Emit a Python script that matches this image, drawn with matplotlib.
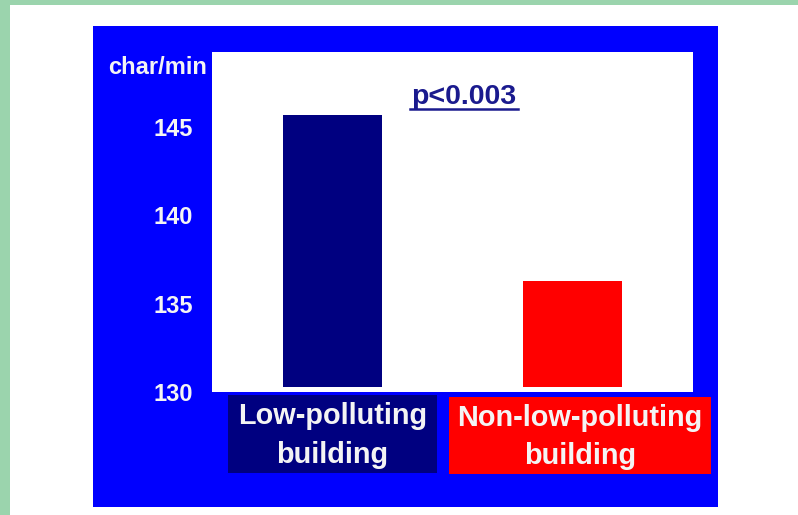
import matplotlib
matplotlib.use("Agg")
import matplotlib.pyplot as plt
from matplotlib.patches import Rectangle
from matplotlib.lines import Line2D

# Typing speed by building type
categories = ["Low-polluting\nbuilding", "Non-low-polluting\nbuilding"]
values = [145.7, 136.3]
yticks = [130, 135, 140, 145]
ylabel = "char/min"
p_text = "p<0.003"

bar_colors = ["#000080", "#ff0000"]
panel_blue = "#0000ff"
frame_green = "#9bd4ad"
tick_white = "#f4f4f4"
p_color = "#1a1a8e"

W, H = 798, 515
fig = plt.figure(figsize=(W / 100, H / 100), dpi=100)
fig.patch.set_facecolor(frame_green)


def fx(x):
    return x / W


def fy(y):
    return 1 - y / H


def frect(x0, y0, x1, y1, color, z=0):
    fig.patches.append(Rectangle((fx(x0), fy(y1)), fx(x1) - fx(x0), fy(y0) - fy(y1),
                                 transform=fig.transFigure, facecolor=color,
                                 edgecolor="none", zorder=z))


# slide background and blue panel
frect(10, 5, W, H, "white", z=-3)
frect(93, 26, 718, 507, panel_blue, z=-2)

font = "Liberation Sans"

ax = fig.add_axes([fx(212), fy(392), fx(693) - fx(212), fy(52) - fy(392)])
ax.set_facecolor("white")
for s in ax.spines.values():
    s.set_visible(False)

baseline = 130.3
x = list(range(len(values)))
ax.bar(x, [v - baseline for v in values], bottom=baseline, width=0.41,
       color=bar_colors, edgecolor="none")
ax.set_xlim(-0.5, 1.5)
ax.set_ylim(130, 149.24)
ax.set_xticks([])
ax.set_yticks(yticks)
ax.set_yticklabels([str(t) for t in yticks], fontfamily=font, fontweight="bold",
                   fontsize=17, color=tick_white)
ax.tick_params(axis="y", length=0, pad=13.5)

# unit label above the tick labels
fig.text(fx(207), fy(74.5), ylabel, ha="right", va="baseline", fontfamily=font,
         fontweight="bold", fontsize=17, color=tick_white)

# significance annotation with underline
fig.text(fx(464), fy(104), p_text, ha="center", va="baseline", fontfamily=font,
         fontweight="bold", fontsize=20.5, color=p_color)
fig.lines.append(Line2D([fx(410), fx(518)], [fy(108.5), fy(108.5)],
                        transform=fig.transFigure, color=p_color, linewidth=1.8))

# category labels in coloured boxes
boxes = [(228, 395, 437, 473, 424, 463), (449, 397, 711, 474, 426, 464)]
for (x0, y0, x1, y1, b1, b2), label, col in zip(boxes, categories, bar_colors):
    frect(x0, y0, x1, y1, col, z=-1)
    cx = (x0 + x1) / 2
    for line, base in zip(label.split("\n"), (b1, b2)):
        fig.text(fx(cx), fy(base), line, ha="center", va="baseline",
                 fontfamily=font, fontweight="bold", fontsize=20.8, color=tick_white)

fig.savefig("out.png", dpi=100, facecolor=fig.get_facecolor())
